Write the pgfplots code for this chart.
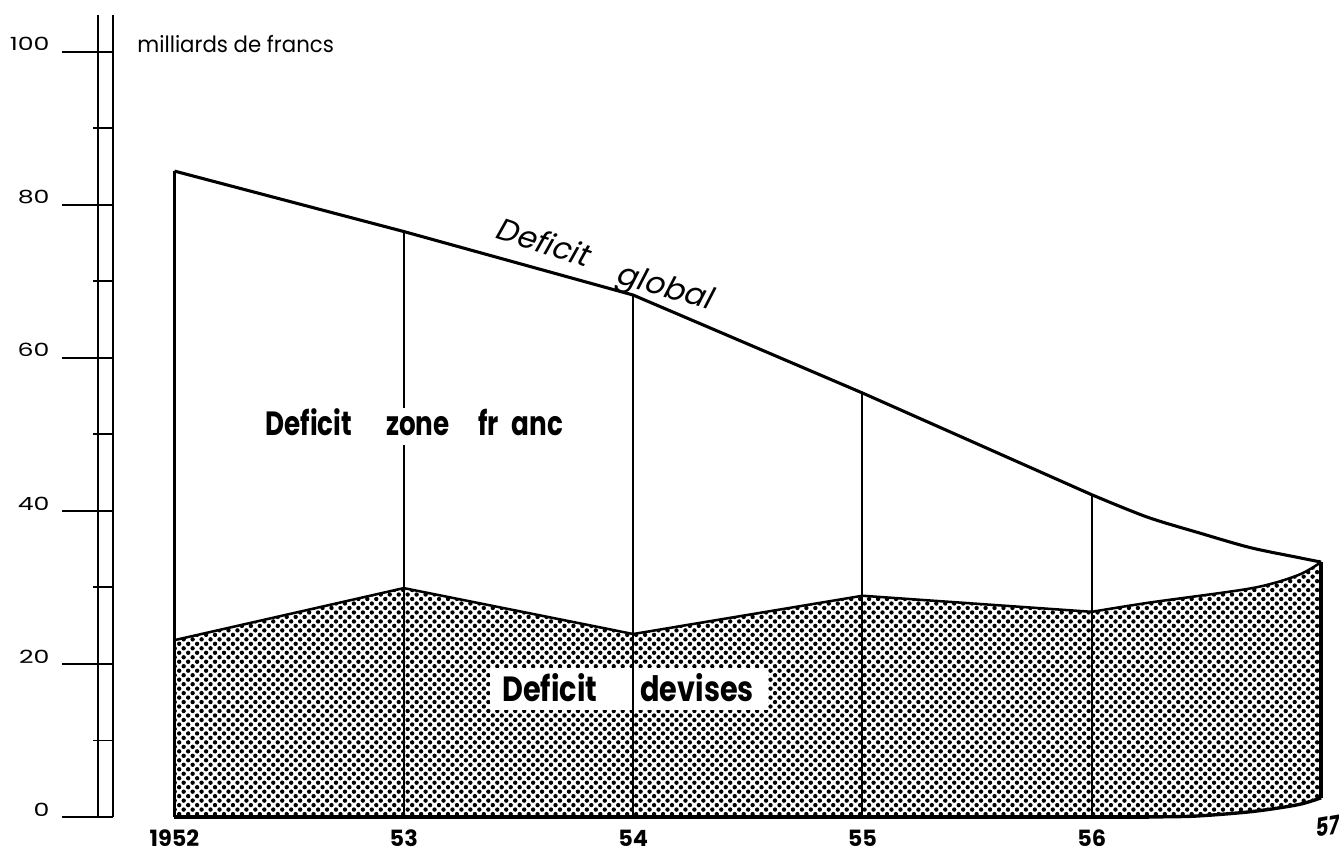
\documentclass[border=0pt]{standalone}
\usepackage{fontspec}
\setmainfont{Poppins}
\usepackage{pgfplots}
\pgfplotsset{compat=1.18}
\usetikzlibrary{patterns}
\pgfdeclarepatternformonly{refdots}{\pgfqpoint{-0.8pt}{-0.8pt}}{\pgfqpoint{2.4pt}{2.4pt}}{\pgfqpoint{3.2pt}{3.2pt}}{%
\pgfpathcircle{\pgfqpoint{0pt}{0pt}}{0.78pt}%
\pgfpathcircle{\pgfqpoint{1.6pt}{1.6pt}}{0.78pt}%
\pgfusepath{fill}}
\begin{document}
\begin{tikzpicture}
\begin{axis}[
  scale only axis,
  width=437.86pt, height=286.4pt,
  xmin=1951.732, xmax=1957.078,
  ymin=0, ymax=104.8,
  clip=false,
  axis y line=left, axis x line=bottom,
  y axis line style={-, line width=0.7pt},
  x axis line style={draw=none},
  xtick={1952,1953,1954,1955,1956},
  xticklabels={1952,53,54,55,56},
  xtick style={draw=none},
  xticklabel style={font=\fontsize{8}{9}\selectfont\bfseries, inner sep=0pt, anchor=center, yshift=10.7pt},
  ytick={0,20,40,60,80,100},
  minor y tick num=1,
  tick align=outside,
  major tick length=18.2pt,
  minor tick length=7.1pt,
  ytick style={line width=0.6pt, black},
  yticklabel style={font=\fontsize{9}{10}\selectfont, yscale=0.72, inner sep=0pt, anchor=south east, xshift=-4.3pt, yshift=0.2pt},
  /pgf/number format/assume math mode=true,
]
% dotted area: deficit devises
\addplot[draw=none, pattern=refdots, pattern color=black] coordinates {
 (1952,0) (1952,23.1) (1953,29.9) (1954,23.9) (1955,28.9) (1956,26.8)
 (1956.25,28.0) (1956.7,29.9) (1956.9,31.6) (1957,33.3)
 (1957,2.5) (1956.9,1.6) (1956.7,0.7) (1956.45,0.1) (1956.25,0)} -- cycle;
% white box behind label
\fill[white] (axis cs:1953.376,13.99) rectangle (axis cs:1954.588,19.48);
% vertical year lines
\addplot[line width=0.8pt] coordinates {(1952,0) (1952,84.4)};
\addplot[line width=0.7pt] coordinates {(1953,0) (1953,76.5)};
\addplot[line width=0.7pt] coordinates {(1954,0) (1954,68.2)};
\addplot[line width=0.7pt] coordinates {(1955,0) (1955,55.4)};
\addplot[line width=0.7pt] coordinates {(1956,0) (1956,42.1)};
\addplot[line width=1.4pt] coordinates {(1957,2.5) (1957,33.3)};
% bottom edge
\addplot[line width=1.2pt] coordinates {(1952,0) (1956.25,0)};
\addplot[line width=1.2pt, smooth] coordinates {(1956.25,0) (1956.45,0.1) (1956.7,0.7) (1956.9,1.6) (1957,2.5)};
% devises line
\addplot[line width=0.9pt] coordinates {(1952,23.1) (1953,29.9) (1954,23.9) (1955,28.9) (1956,26.8)};
\addplot[line width=0.9pt, smooth] coordinates {(1956,26.8) (1956.25,28.0) (1956.7,29.9) (1956.9,31.6) (1957,33.3)};
% global line
\addplot[line width=1.1pt] coordinates {(1952,84.4) (1953,76.5) (1954,68.2) (1955,55.4) (1956,42.1)};
\addplot[line width=1.1pt, smooth] coordinates {(1956,42.1) (1956.24,39.2) (1956.47,37.1) (1956.69,35.2) (1956.9,33.9) (1957,33.3)};
% double axis line
\draw[line width=0.6pt] ([xshift=-5.36pt]axis cs:1951.732,0) -- ([xshift=-5.36pt]axis cs:1951.732,104.8);
% texts
\node[anchor=base west, inner sep=0pt, font=\fontsize{8}{9}\selectfont, xscale=0.95] at (axis cs:1951.836,99.9) {milliards de francs};
\node[anchor=base west, inner sep=0pt, xscale=0.78, font=\fontsize{12}{13}\selectfont\bfseries] at (axis cs:1952.395,49.8) {Deficit};
\node[anchor=base west, inner sep=0pt, outer sep=0pt, fill=white, inner ysep=3pt, inner xsep=1.5pt, xscale=0.78, font=\fontsize{12}{13}\selectfont\bfseries] at (axis cs:1952.909,49.8) {zone};
\node[anchor=base west, inner sep=0pt, xscale=0.78, font=\fontsize{12}{13}\selectfont\bfseries] at (axis cs:1953.324,49.8) {fr};
\node[anchor=base west, inner sep=0pt, xscale=0.78, font=\fontsize{12}{13}\selectfont\bfseries] at (axis cs:1953.468,49.8) {anc};
\node[anchor=base west, inner sep=0pt, xscale=0.82, font=\fontsize{12.5}{13}\selectfont\bfseries] at (axis cs:1953.428,15.03) {Deficit};
\node[anchor=base west, inner sep=0pt, xscale=0.82, font=\fontsize{12.5}{13}\selectfont\bfseries] at (axis cs:1954.030,15.03) {devises};
\node[rotate=-18, xslant=0.2, font=\fontsize{11}{12}\selectfont] at (axis cs:1953.615,75.1) {Deficit};
\node[rotate=-16, xslant=0.2, font=\fontsize{11}{12}\selectfont] at (axis cs:1954.139,68.9) {global};
\node[rotate=10, xslant=0.25, xscale=0.8, inner sep=0pt, font=\fontsize{9}{10}\selectfont\bfseries] at (axis cs:1957.03,-1.18) {57};
\coordinate (BL) at ([xshift=-40.36pt, yshift=-11.79pt]axis cs:1951.732,0);
\coordinate (TR) at ([yshift=5.36pt]axis cs:1957.078,104.8);
\end{axis}
\pgfresetboundingbox
\path (BL) rectangle (TR);
\end{tikzpicture}
\end{document}
